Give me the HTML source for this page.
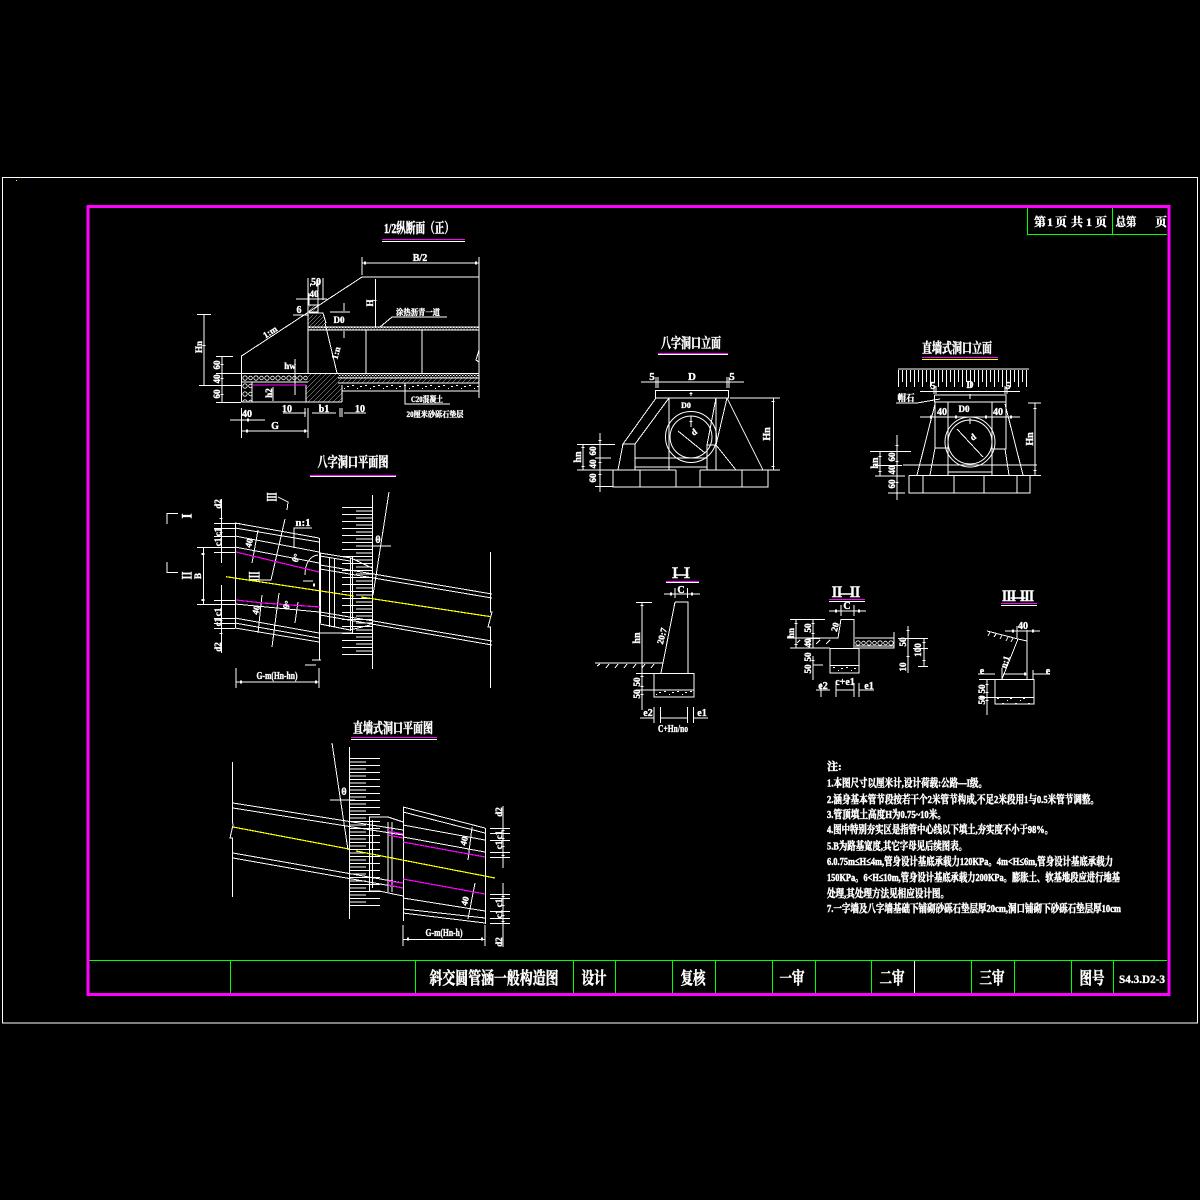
<!DOCTYPE html>
<html><head><meta charset="utf-8"><title>斜交圆管涵一般构造图</title>
<style>
html,body{margin:0;padding:0;background:#000;width:1200px;height:1200px;overflow:hidden}
svg{display:block}
.l{fill:none;stroke:#fff;stroke-width:1;shape-rendering:crispEdges}
.m{fill:none;stroke:#f0f;stroke-width:1.2;shape-rendering:crispEdges}
.y{fill:none;stroke:#ff0;stroke-width:1.2;shape-rendering:crispEdges}
.g{fill:none;stroke:#0f0;stroke-width:1;shape-rendering:crispEdges}
.k{fill:none;stroke:#fff;stroke-width:3;shape-rendering:crispEdges}
.um{fill:#f0f;shape-rendering:crispEdges}
.uw{fill:#fff;shape-rendering:crispEdges}
text{font-family:"Liberation Serif","Noto Serif CJK SC",serif;fill:#fff;stroke:#fff;stroke-width:.35;text-anchor:middle;font-weight:bold}
.ti{font-size:14px;stroke-width:.5}
.d{font-size:9px}
.n{font-size:11px;text-anchor:start;stroke-width:.5}
.tb{font-size:17px;stroke-width:.5}
</style></head><body>
<svg width="1200" height="1200" viewBox="0 0 1200 1200" xmlns="http://www.w3.org/2000/svg">
<defs>
<pattern id="hx" width="4" height="4" patternUnits="userSpaceOnUse"><path d="M0 4L4 0M-1 1L1 -1M3 5L5 3" stroke="#fff" stroke-width=".8" fill="none" shape-rendering="crispEdges"/></pattern>
<pattern id="hl" width="5" height="5" patternUnits="userSpaceOnUse"><path d="M0 5L5 0M-1 1L1 -1M4 6L6 4" stroke="#fff" stroke-width=".8" fill="none" shape-rendering="crispEdges"/></pattern>
<pattern id="dt" width="13" height="6" patternUnits="userSpaceOnUse"><rect x="1" y="1" width="2" height="1" fill="#fff"/><rect x="6" y="4" width="1" height="1" fill="#fff"/><rect x="9" y="2" width="2" height="1" fill="#fff"/></pattern>
<pattern id="ds" width="3" height="3" patternUnits="userSpaceOnUse"><rect x="0" y="0" width="1.4" height="1" fill="#fff"/><rect x="1.6" y="1.6" width="1" height="1" fill="#fff"/></pattern>
<pattern id="cr" x="242" y="374" width="11" height="8" patternUnits="userSpaceOnUse"><circle cx="3" cy="4" r="2.2" stroke="#fff" stroke-width=".8" fill="none"/><circle cx="8.5" cy="4" r="1.8" stroke="#fff" stroke-width=".8" fill="none"/></pattern>
<pattern id="cr2" x="855" y="639" width="11" height="8" patternUnits="userSpaceOnUse"><circle cx="3" cy="4" r="2.2" stroke="#fff" stroke-width=".8" fill="none"/><circle cx="8.5" cy="4" r="1.8" stroke="#fff" stroke-width=".8" fill="none"/></pattern>
<pattern id="tk" x="342" y="507" width="30" height="7" patternUnits="userSpaceOnUse"><rect x="0" y="0" width="30" height="1" fill="#fff"/><rect x="14" y="3.5" width="16" height="1" fill="#fff"/></pattern>
<pattern id="tk2" x="350" y="758" width="30" height="7" patternUnits="userSpaceOnUse"><rect x="0" y="0" width="30" height="1" fill="#fff"/><rect x="0" y="3.5" width="16" height="1" fill="#fff"/></pattern>
<pattern id="tv" x="898" y="369" width="8" height="20" patternUnits="userSpaceOnUse"><rect x="0" y="0" width="1" height="18" fill="#fff"/><rect x="4" y="0" width="1" height="13" fill="#fff"/></pattern>
</defs>
<rect width="1200" height="1200" fill="#000"/>

<!-- frames -->
<rect x="2.5" y="177.5" width="1195" height="845.5" fill="none" stroke="#fff" stroke-width="1" shape-rendering="crispEdges"/>
<rect x="16" y="180" width="1" height="1" fill="#ff0"/>
<rect x="88" y="206.5" width="1081" height="788" fill="none" stroke="#f0f" stroke-width="3" shape-rendering="crispEdges"/>

<!-- title block -->
<path class="g" d="M89.5 960.5H1167M230.5 961V993M415.5 961V993M573.5 961V993M615.5 961V993M672.5 961V993M715.5 961V993M772.5 961V993M815.5 961V993M871.5 961V993M971.5 961V993M1014.5 961V993M1071.5 961V993M1113.5 961V993"/>
<path class="l" d="M914.5 961V993"/>
<text class="tb" x="494" y="984" textLength="129" lengthAdjust="spacingAndGlyphs">斜交圆管涵一般构造图</text>
<text class="tb" x="594" y="984" textLength="25" lengthAdjust="spacingAndGlyphs">设计</text>
<text class="tb" x="693" y="984" textLength="25" lengthAdjust="spacingAndGlyphs">复核</text>
<text class="tb" x="792" y="984" textLength="25" lengthAdjust="spacingAndGlyphs">一审</text>
<text class="tb" x="892" y="984" textLength="25" lengthAdjust="spacingAndGlyphs">二审</text>
<text class="tb" x="992" y="984" textLength="25" lengthAdjust="spacingAndGlyphs">三审</text>
<text class="tb" x="1092" y="984" textLength="25" lengthAdjust="spacingAndGlyphs">图号</text>
<text x="1142" y="983" style="font-size:12px" textLength="46" lengthAdjust="spacingAndGlyphs">S4.3.D2-3</text>
<path class="g" d="M1027.5 208V234.5H1167M1112.5 208V234.5"/>
<text x="1040" y="226" style="font-size:12px">第</text><text x="1050" y="226" style="font-size:12px">1</text><text x="1061" y="226" style="font-size:12px">页</text>
<text x="1077" y="226" style="font-size:12px">共</text><text x="1089" y="226" style="font-size:12px">1</text><text x="1101" y="226" style="font-size:12px">页</text>
<text x="1126" y="226" style="font-size:12px" textLength="21" lengthAdjust="spacingAndGlyphs">总第</text><text x="1161" y="226" style="font-size:12px">页</text>

<!-- section: 1/2 纵断面 -->
<text class="ti" x="419" y="233" textLength="70" lengthAdjust="spacingAndGlyphs">1/2纵断面（正）</text>
<rect class="um" x="382" y="239" width="83" height="1"/><rect class="uw" x="382" y="241" width="83" height="1"/>
<text class="d" x="420" y="261" style="font-size:10px">B/2</text>
<path class="l" d="M362 257V275M479 257V398M362 263H479M362 277H479M362 277L241.5 356V402M241.5 402H342M241.5 373.5H479M241.5 382H308M252 382V402M306 385V402M308 278V373M309 293V305H318V293M309 305H318V312H309M318 292V280M323 278V300M309 313H323L326 323M308 327H479M308 330H479M366 330V373M422 330V373M325 323L337 373M338 378H479M342 391H479M338 383H479M342 385V402M296 299H327M293 315H308M330 312H350M344 303V311M344 331V338M375.5 279V327M380 327L392 317H447M405 383V404H450M479 350L476 360L479 362M204 314V385M197 314.5H211M199 385.5H242M222 356V402M216 356.5H233M216 373.5H241M216 402.5H241M295 359V395M273 387V401M241.5 408V438M308 408V438M242 431H308M230 420H265M305 408V417M306 413H283M312 413H336M342 408V417M340 408V417M344 413H366"/>
<path class="k" d="M204 345v1M222 364v1M222 378v1M222 394v1M246 431h2M304 431h2M247 420h2M364 263h2M475 263h2M375 300v1M316 285h2M310 285h1"/>
<rect x="242" y="374" width="66" height="8" fill="url(#cr)"/><rect x="242" y="382" width="10" height="20" fill="url(#cr)"/>
<rect x="308" y="374" width="30" height="11" fill="url(#hl)"/>
<rect x="306" y="385" width="36" height="17" fill="url(#hl)"/>
<rect x="308.5" y="315" width="17" height="12" fill="url(#hx)"/>
<rect x="309" y="305" width="9" height="7" fill="url(#hx)"/>
<rect x="308" y="327.5" width="171" height="2.5" fill="url(#ds)"/>
<rect x="338" y="374" width="141" height="4" fill="url(#ds)"/>
<rect x="338" y="378.5" width="141" height="4.5" fill="url(#hl)"/>
<rect x="342" y="384" width="137" height="7" fill="url(#dt)"/>
<path class="m" d="M253 385H306"/>
<text class="d" x="418" y="315" style="font-size:8px" textLength="44" lengthAdjust="spacingAndGlyphs">涂热沥青一道</text>
<text class="d" x="427" y="402" style="font-size:8px" textLength="32" lengthAdjust="spacingAndGlyphs">C20混凝土</text>
<text class="d" x="435" y="417" style="font-size:8px" textLength="57" lengthAdjust="spacingAndGlyphs">20厘米砂砾石垫层</text>
<text class="d" x="270" y="335" transform="rotate(-33 270 332)">1:m</text>
<text class="d" x="287" y="412" style="font-size:10px">10</text><text class="d" x="324" y="412" style="font-size:10px">b1</text><text class="d" x="360" y="412" style="font-size:10px">10</text>
<text class="d" x="247" y="417" style="font-size:10px">40</text><text class="d" x="275" y="429" style="font-size:10px">G</text>
<text class="d" x="316" y="285" style="font-size:10px">50</text><text class="d" x="314" y="297" >40</text>
<text class="d" x="299" y="313" style="font-size:10px">6</text>
<text class="d" x="370" y="306" transform="rotate(-90 370 303)">H</text>
<text class="d" x="339" y="323">D0</text>
<text class="d" x="336" y="356" transform="rotate(-75 336 353)">1:n</text>
<text class="d" x="290" y="369">hw</text>
<text class="d" x="269" y="396" transform="rotate(-90 269 393)">h2</text>
<text class="d" x="199" y="350" transform="rotate(-90 199 347)">Hn</text>
<text class="d" x="217" y="368" transform="rotate(-90 217 365)">60</text>
<text class="d" x="217" y="382" transform="rotate(-90 217 379)">40</text>
<text class="d" x="217" y="397" transform="rotate(-90 217 394)">60</text>

<!-- 八字洞口平面图 -->
<text class="ti" x="353" y="467" textLength="71" lengthAdjust="spacingAndGlyphs">八字洞口平面图</text>
<rect class="um" x="310" y="475" width="86" height="1"/><rect class="uw" x="310" y="476" width="86" height="1"/>
<path class="l" d="M235.5 523V628M319.5 538V660M235 523L319 538M235 528L319 542M235 536L319 552M235 547L319 563M235 604L319 612M235 618L319 633M235 623L319 638M235 628L319 642M320 553L351 558L372 568M320 556L350 561M320 565L492 594M320 569L492 598M320 612L492 641M320 615L492 645M320 624L350 630L370 625M329.5 557V627M334.5 558V627M350.5 558V631M352.5 557V633M319 633L352 633M372.5 495V669M389 492L373 595M367 546H391M490.5 552V612L492 612L488 627L490.5 627V688M221.5 499V563M221.5 585V653M203.5 547V604M197 547.5H221M197 604.5H221M214 523.5H240M214 528.5H235M214 536.5H235M214 547.5H235M214 552.5H235M214 600.5H235M214 604.5H235M214 618.5H235M214 623.5H235M214 628.5H235M167 524V513.5H178M167 562V572.5H178M278 497L288 502L287 510M260 580H271L282 532L285 519M294 548V528H312M258 530L252 563M279 593L272 647M262 595L258 633M298 602L295 623M236 668V688M319 668V688M236 682H319M303 581H313M305 665H316M321 660H312"/>
<path d="M318 555C310 556 305 563 305 575" fill="none" stroke="#fff" stroke-width="1"/>
<rect x="342" y="507" width="30" height="150" fill="url(#tk)"/>
<path class="k" d="M240 682h2M315 682h2M203 553v2M203 599v2M221 518v1M221 532v1M221 552v1M221 600v1M221 620v1M221 633v1M313 585h2"/>
<rect x="319" y="553" width="2" height="70" fill="#fff"/>
<text x="187" y="516" style="font-size:15px" textLength="5" lengthAdjust="spacingAndGlyphs" transform="rotate(90 187 516) translate(0 5)">I</text>
<text x="187" y="575.5" style="font-size:15px" textLength="8" lengthAdjust="spacingAndGlyphs" transform="rotate(90 187 575.5) translate(0 5)">II</text>
<text x="272" y="497" style="font-size:15px" textLength="9" lengthAdjust="spacingAndGlyphs" transform="rotate(90 272 497) translate(0 5)">III</text>
<text x="254" y="576.5" style="font-size:16px" textLength="10" lengthAdjust="spacingAndGlyphs" transform="rotate(90 254 576.5) translate(0 5)">III</text>
<path class="m" d="M236 552L319 572M236 600L263 603L320 607"/>
<path class="y" d="M226 576.7L354 596M361 597L491 616.7"/>
<text class="d" x="303" y="526" style="font-size:11px">n:1</text>
<text class="d" x="198" y="579" transform="rotate(-90 198 576)">B</text>
<text class="d" x="378" y="543" style="font-size:10px">θ</text>
<text class="d" x="277" y="679" style="font-size:10px" textLength="41" lengthAdjust="spacingAndGlyphs">G-m(Hn-hn)</text>
<text class="d" x="218" y="507" transform="rotate(-90 218 504)">d2</text>
<text class="d" x="218" y="535" transform="rotate(-90 218 532)">c1</text>
<text class="d" x="218" y="545" transform="rotate(-90 218 542)">c1</text>
<text class="d" x="218" y="615" transform="rotate(-90 218 612)">c1</text>
<text class="d" x="218" y="625" transform="rotate(-90 218 622)">c1</text>
<text class="d" x="218" y="650" transform="rotate(-90 218 647)">d2</text>
<text class="d" x="249" y="546" transform="rotate(-75 249 543)">40</text>
<text class="d" x="256" y="613" transform="rotate(-75 256 610)">40</text>
<text class="d" x="296" y="561" transform="rotate(-70 296 558)">θ°</text>
<text class="d" x="287" y="608" transform="rotate(-70 287 605)">θ°</text>

<!-- 八字洞口立面 -->
<text class="ti" x="691" y="348" textLength="60" lengthAdjust="spacingAndGlyphs">八字洞口立面</text>
<rect class="um" x="658" y="353" width="70" height="1"/><rect class="uw" x="658" y="354" width="70" height="1"/>
<rect x="655.5" y="390.5" width="73" height="7.5" class="l"/>
<path class="l" d="M641 382H744M656 377V388M658 377V388M727 377V388M729 377V388M691 392V396M669 398V470M716 398V470M707 445V470M635 444V470M656 398L623 444H635L669 398M623 444L618 470M635 458H707M635 467H707M727 398L763 470M716 398L707 445H716L736 470M727 398L716 445M730 398H780M613 470H676M700 470H780M613 470V487H768V470M640 470V487M676 470V487M700 470V487M742 470V487M773.5 398V470M600 433V492M595 444.5H615M595 458H611M595 470H613M595 486.5H613M583 444V470M577 444.5H595M577 470H595M678 431L705 453M691 416V427"/>
<circle cx="691" cy="437" r="25.5" fill="none" stroke="#fff"/><circle cx="691" cy="437" r="21" fill="none" stroke="#fff"/>
<path class="k" d="M773 401v1M773 466v1M600 440v1M583 447v1M583 466v1M600 462v1M600 474v1M691 393v1M691 421v1"/>
<text class="d" x="652" y="380" style="font-size:11px">5</text><text class="d" x="692" y="380" style="font-size:11px">D</text><text class="d" x="732" y="380" style="font-size:11px">5</text>
<text class="d" x="686" y="408" style="font-size:8px">D0</text>
<text class="d" x="694" y="435" transform="rotate(-35 694 432)">d</text>
<text class="d" x="767" y="437" transform="rotate(-90 767 434)" style="font-size:10px">Hn</text>
<text class="d" x="578" y="460" transform="rotate(-90 578 457)" style="font-size:10px">hn</text>
<text class="d" x="593" y="454" transform="rotate(-90 593 451)">60</text>
<text class="d" x="593" y="467" transform="rotate(-90 593 464)">40</text>
<text class="d" x="593" y="481" transform="rotate(-90 593 478)">60</text>

<!-- 直墙式洞口立面 -->
<text class="ti" x="957" y="353" textLength="70" lengthAdjust="spacingAndGlyphs">直墙式洞口立面</text>
<rect class="um" x="922" y="357" width="76" height="1"/><rect x="922" y="359" width="76" height="1" fill="#ff0" shape-rendering="crispEdges"/>
<path class="l" d="M898 369H1029M920 391.5H1020M934 386V394M936 386V394M1005 386V394M1007 386V394M970 394V399M920 417H1020M970 418V424M934.5 395V402H1006V395H934.5M935 402V448H948M948 402V475M992 402V475M1006 402V449H992M896 403H917L940 399M935 404L917 475M935 448L930 475M1005 404L1023 475M1005 449L1009 475M903 465H1037M948 472H992M909 475.5H1030V493H909V475.5M923 476V493M954 476V493M984 476V493M1017 476V493M957 429L983 457M1028 403H1041M1035 403V475M1028 475.5H1041M897 435V500M870 451.5H911M875 465.5H902M875 476H905M888 493H905M880 451V476"/>
<circle cx="970" cy="442" r="25" fill="none" stroke="#fff"/><circle cx="970" cy="442" r="22" fill="none" stroke="#fff"/>
<rect x="898" y="370" width="131" height="18" fill="url(#tv)"/>
<path class="k" d="M1035 408v1M1035 470v1M897 445v1M897 461v1M897 482v1M880 456v1M880 471v1M930 417h2M1010 417h2M955 417h2M985 417h2"/>
<text class="d" x="933" y="389" style="font-size:10px">5</text><text class="d" x="970" y="388" style="font-size:10px">D</text><text class="d" x="1008" y="389" style="font-size:10px">5</text>
<text class="d" x="906" y="401" style="font-size:9px" textLength="17" lengthAdjust="spacingAndGlyphs">帽石</text>
<text class="d" x="942" y="415" style="font-size:10px">40</text><text class="d" x="964" y="412">D0</text><text class="d" x="998" y="415" style="font-size:10px">40</text>
<text class="d" x="973" y="440" transform="rotate(-35 973 437)">d</text>
<text class="d" x="1030" y="442" transform="rotate(-90 1030 439)" style="font-size:10px">Hn</text>
<text class="d" x="875" y="466" transform="rotate(-90 875 463)" style="font-size:10px">hn</text>
<text class="d" x="892" y="460" transform="rotate(-90 892 457)">60</text>
<text class="d" x="892" y="473" transform="rotate(-90 892 470)">40</text>
<text class="d" x="892" y="487" transform="rotate(-90 892 484)">60</text>

<!-- I-I -->
<text class="ti" x="681" y="578" textLength="26" lengthAdjust="spacing">Ⅰ—Ⅰ</text>
<rect class="um" x="666" y="581" width="33" height="1"/><rect class="uw" x="666" y="582" width="33" height="1"/>
<path class="l" d="M664 594H700M675 588V598M687.5 588V598M675 602H688V673M675 602L661 673M654 673.5H694V697H654V673.5M654 690H694M595 663H663M636 602.5H652M642 602V710M636 673.5H654M636 690H654M654 707V723M660.5 707V723M687.5 707V723M693.5 707V723M660 718H688M640 718H654M694 718H708M600 664L597 666M609 664L606 668M618 664L615 668M627 664L624 668M636 664L633 668M645 664L642 668M654 664L651 668"/>
<rect x="655" y="691" width="38" height="5" fill="url(#dt)"/>
<path class="k" d="M670 594h2M691 594h2M642 605v1M642 676v1M642 686v1M642 694v1"/>
<text class="d" x="681" y="593" style="font-size:10px">C</text>
<text class="d" x="637" y="641" transform="rotate(-90 637 638)" style="font-size:10px">hn</text>
<text class="d" x="637" y="685" transform="rotate(-90 637 682)">50</text>
<text class="d" x="637" y="697" transform="rotate(-90 637 694)">50</text>
<text class="d" x="662" y="639" transform="rotate(-75 662 636)">20:7</text>
<text class="d" x="648" y="716" style="font-size:10px">e2</text><text class="d" x="702" y="716" style="font-size:10px">e1</text>
<text class="d" x="673" y="732" style="font-size:10px" textLength="30" lengthAdjust="spacingAndGlyphs">C+Hn/no</text>

<!-- II-II -->
<text class="ti" x="846" y="597" textLength="32" lengthAdjust="spacing">Ⅱ—Ⅱ</text>
<rect class="um" x="829" y="599" width="36" height="1"/><rect class="uw" x="829" y="601" width="36" height="1"/>
<path class="l" d="M829 611H866M841 605V616M854 605V616M841 619.5H854V648M841 619L838 638H787M790 648H830M830 648.5H859V673H830V648.5M830 665.5H859M855 638H894V648H855M855 646H894M894 632V648M790 619.5H825M796 619V648M813 619V648M808 638.5H820M813 656V680M813 665H823M821 683V697M836 683V697M854 683V697M859 683V697M816 690H830M836 690H854M859 690H874M908 626V673M924 638V666M898 638.5H928M913 648.5H928M918 666.5H928M800 640L797 643M810 640L806 644M820 640L816 644M830 640L826 644"/>
<rect x="855" y="639" width="39" height="7" fill="url(#cr2)"/>
<rect x="831" y="666" width="27" height="6" fill="url(#dt)"/>
<path class="k" d="M835 611h2M858 611h2M796 623v1M796 644v1M813 623v1M813 633v1M813 660v1M908 630v1M908 656v1M924 642v1M924 660v1"/>
<text class="d" x="847" y="609" style="font-size:10px">C</text>
<text class="d" x="791" y="636" transform="rotate(-90 791 633)">hn</text>
<text class="d" x="808" y="631" transform="rotate(-90 808 628)">50</text>
<text class="d" x="808" y="646" transform="rotate(-90 808 643)">40</text>
<text class="d" x="808" y="660" transform="rotate(-90 808 657)">50</text>
<text class="d" x="808" y="672" transform="rotate(-90 808 669)">50</text>
<text class="d" x="835" y="630" transform="rotate(-75 835 627)">20</text>
<text class="d" x="903" y="645" transform="rotate(-90 903 642)">50</text>
<text class="d" x="918" y="653" transform="rotate(-90 918 650)">100</text>
<text class="d" x="903" y="670" transform="rotate(-90 903 667)">10</text>
<text class="d" x="823" y="689" style="font-size:10px">e2</text><text class="d" x="845" y="685" style="font-size:10px">c+e1</text><text class="d" x="869" y="689" style="font-size:10px">e1</text>

<!-- III-III -->
<text class="ti" x="1018" y="601" textLength="32" lengthAdjust="spacing">Ⅲ—Ⅲ</text>
<rect class="um" x="1001" y="603" width="36" height="1"/><rect class="uw" x="1001" y="605" width="36" height="1"/>
<path class="l" d="M1005 631H1040M1017 626V638M1027 630V679M987 631L1018 639L1027 641M1018 639L1002 679M995 679.5H1034V704H995V679.5M995 697.5H1034M978 674H995M1002 668V680M1003 674H1027M1033 670V680M1033 674H1050M987 679.5H995M979 679.5H987M987 679V715M980 697.5H995M990 632L988 636M996 634L994 637M1002 635L1000 639M1008 637L1006 641M1013 638L1011 642"/>
<rect x="996" y="698" width="37" height="6" fill="url(#dt)"/>
<path class="k" d="M1012 631h2M1032 631h2M1024 674h2M987 684v1M987 692v1M987 700v1"/>
<text class="d" x="1023" y="629" style="font-size:10px">40</text>
<text class="d" x="982" y="674" style="font-size:10px">e</text><text class="d" x="1048" y="674" style="font-size:10px">e</text>
<text class="d" x="982" y="692" transform="rotate(-90 982 689)">50</text>
<text class="d" x="982" y="703" transform="rotate(-90 982 700)">50</text>
<text class="d" x="1005" y="665" transform="rotate(-72 1005 662)">n:1</text>

<!-- 直墙式洞口平面图 -->
<text class="ti" x="393" y="733" textLength="80" lengthAdjust="spacingAndGlyphs">直墙式洞口平面图</text>
<rect class="um" x="351" y="737" width="86" height="1"/><rect class="uw" x="351" y="739" width="86" height="1"/>
<path class="l" d="M232.5 762V822L233 825L230 838L232.5 838V897M349.5 747V919M332 743L348 850M330 800H355M233 803L403 830M233 808L403 835M233 853L403 883M233 858L403 888M369.5 817V891H379L403 896M372.5 820V888M369 817H388L403 822M388 822V892M392 822V892M403.5 807V921M485.5 828V924M403 807L485 828M403 812L485 833M403 825L485 840M403 837L485 852M403 898L485 911M403 909L485 918M403 913L485 923M503 806V868M503 883V947M490 828.5H510M490 833.5H510M490 840.5H510M490 852.5H510M490 857.5H510M490 894.5H510M490 898.5H510M490 911.5H510M490 918.5H510M490 923.5H510M403 925V946M485 925V946M403 939.5H485M472 827L468 860M475 883L468 919"/>
<rect x="350" y="758" width="30" height="150" fill="url(#tk2)"/>
<path class="k" d="M407 939h2M481 939h2M503 830v1M503 838v1M503 846v1M503 855v1M503 896v1M503 905v1M503 915v1M503 921v1"/>
<path class="m" d="M388 831L403 834M388 835L403 838M388 881L403 883M388 885L403 888M403 842L485 857M403 879L485 894"/>
<path class="y" d="M233 827L349 849M356 851L495 878"/>
<text class="d" x="344" y="795" style="font-size:10px">θ</text>
<text class="d" x="464" y="844" transform="rotate(-75 464 841)">40</text>
<text class="d" x="465" y="904" transform="rotate(-75 465 901)">40</text>
<text class="d" x="444" y="936" style="font-size:10px" textLength="37" lengthAdjust="spacingAndGlyphs">G-m(Hn-h)</text>
<text class="d" x="499" y="815" transform="rotate(-90 499 812)">d2</text>
<text class="d" x="499" y="838" transform="rotate(-90 499 835)">c1</text>
<text class="d" x="499" y="848" transform="rotate(-90 499 845)">c1</text>
<text class="d" x="499" y="906" transform="rotate(-90 499 903)">c1</text>
<text class="d" x="499" y="917" transform="rotate(-90 499 914)">c1</text>
<text class="d" x="499" y="945" transform="rotate(-90 499 942)">d2</text>

<!-- notes -->
<text class="n" x="827" y="770">注:</text>
<text class="n" x="827" y="786.5" textLength="160" lengthAdjust="spacingAndGlyphs">1.本图尺寸以厘米计,设计荷载:公路—I级。</text>
<text class="n" x="827" y="803" textLength="272" lengthAdjust="spacingAndGlyphs">2.涵身基本管节段按若干个2米管节构成,不足2米段用1与0.5米管节调整。</text>
<text class="n" x="827" y="818" textLength="119" lengthAdjust="spacingAndGlyphs">3.管顶填土高度H为0.75~10米。</text>
<text class="n" x="827" y="833" textLength="226" lengthAdjust="spacingAndGlyphs">4.图中特别夯实区是指管中心线以下填土,夯实度不小于98%。</text>
<text class="n" x="827" y="849.5" textLength="140" lengthAdjust="spacingAndGlyphs">5.B为路基宽度,其它字母见后续图表。</text>
<text class="n" x="827" y="865" textLength="286" lengthAdjust="spacingAndGlyphs">6.0.75m≤H≤4m,管身设计基底承载力120KPa。4m&lt;H≤6m,管身设计基底承载力</text>
<text class="n" x="827" y="881" textLength="293" lengthAdjust="spacingAndGlyphs">150KPa。6&lt;H≤10m,管身设计基底承载力200KPa。膨胀土、软基地段应进行地基</text>
<text class="n" x="827" y="897" textLength="122" lengthAdjust="spacingAndGlyphs">处理,其处理方法见相应设计图。</text>
<text class="n" x="827" y="912" textLength="294" lengthAdjust="spacingAndGlyphs">7.一字墙及八字墙基础下铺砌砂砾石垫层厚20cm,洞口铺砌下砂砾石垫层厚10cm</text>
</svg>
</body></html>
